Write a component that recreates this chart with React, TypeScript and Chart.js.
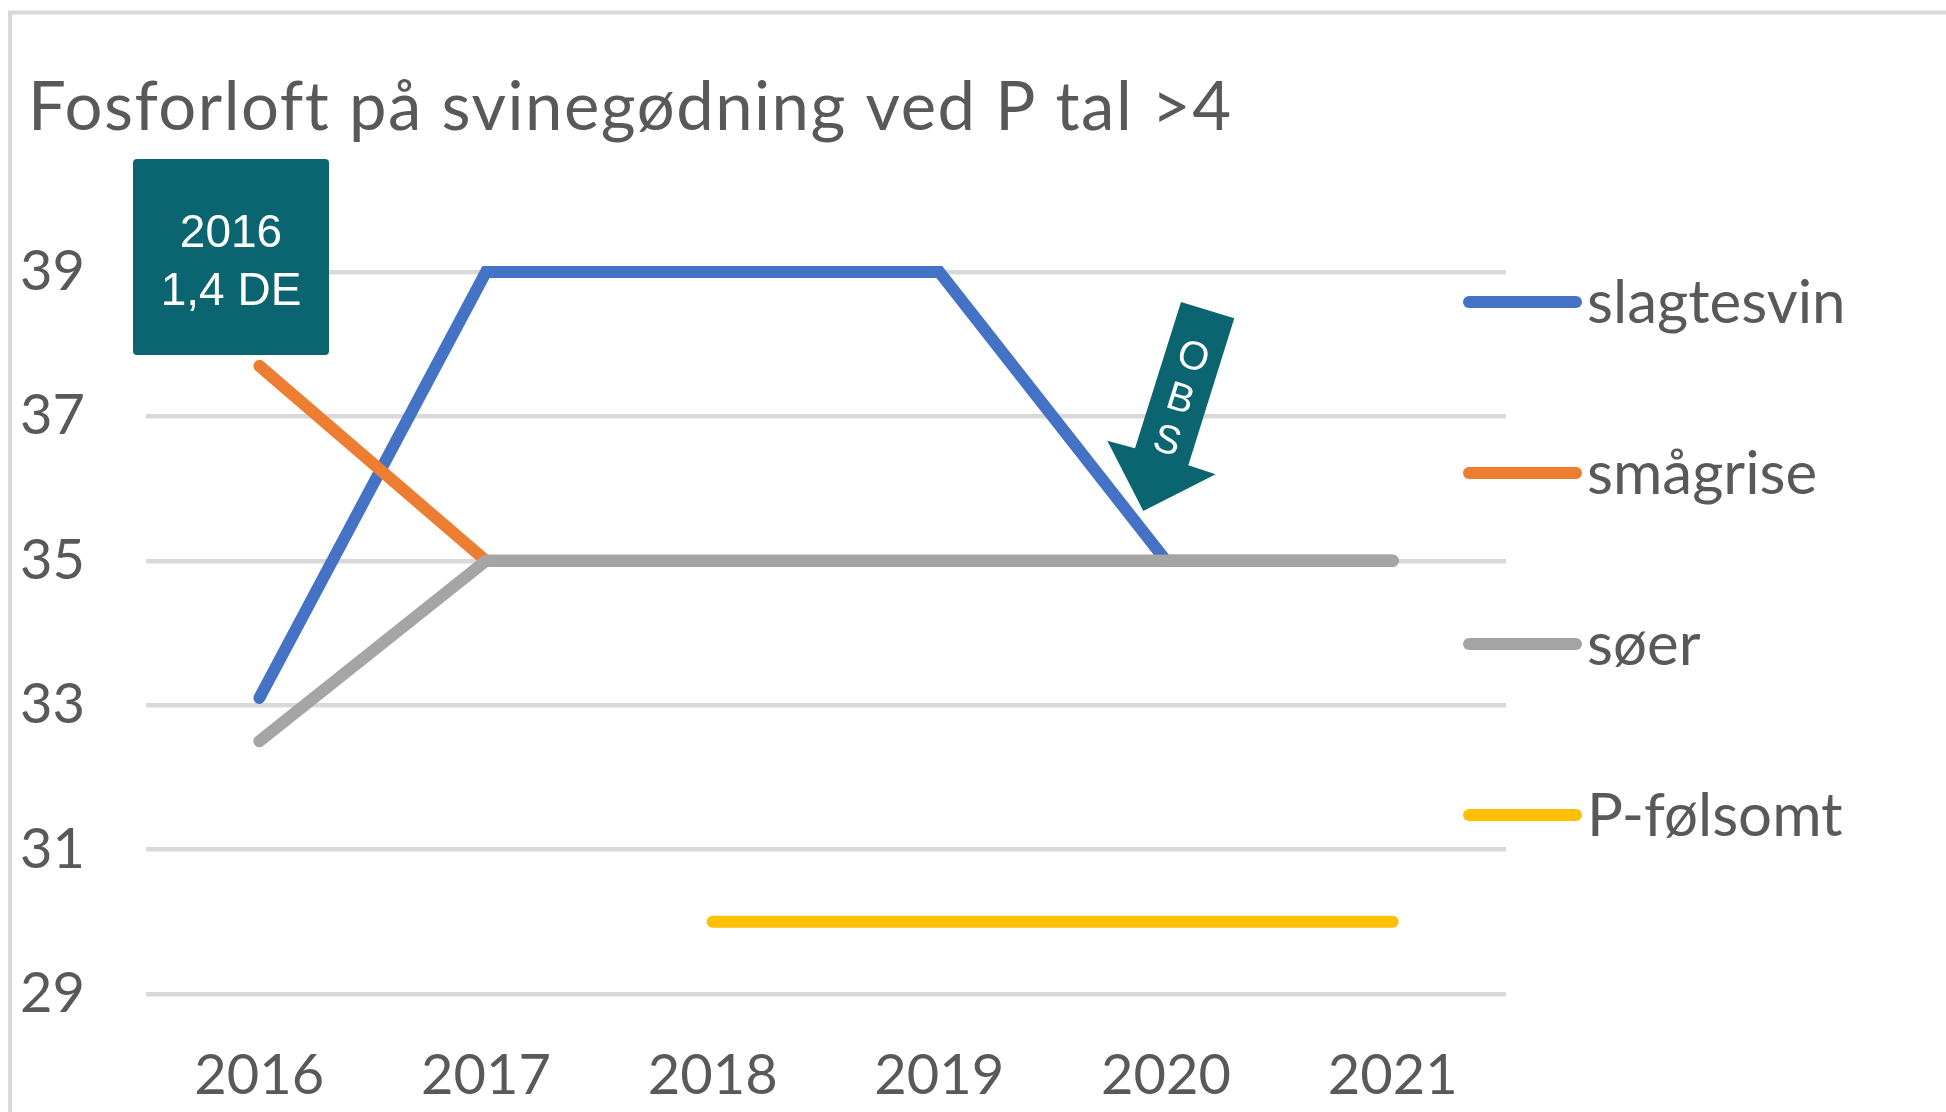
import React, { useEffect, useRef } from "react";
import { Chart, registerables } from "chart.js";

Chart.register(...registerables);

const years = ["2016", "2017", "2018", "2019", "2020", "2021"];
const slagtesvin = [33.1, 39, 39, 39, 35, 35];
const smaagrise = [37.7, 35, 35, 35, 35, 35];
const soeer = [32.5, 35, 35, 35, 35, 35];
const pFoelsomt = [null, null, 30, 30, 30, 30];
const seriesNames = ["slagtesvin", "smågrise", "søer", "P-følsomt"];
const seriesColors = ["#4472C4", "#ED7D31", "#A5A5A5", "#FFC000"];
const titleText = "Fosforloft på svinegødning ved P tal >4";
const boxLines = ["2016", "1,4 DE"];
const arrowText = ["O", "B", "S"];

const TEXT = "#595959";
const TEAL = "#0A6570";

const decor = {
  id: "decor",
  afterDraw(chart: any) {
    const ctx = chart.ctx as CanvasRenderingContext2D;
    ctx.save();
    // outer border (only top/left visible)
    ctx.strokeStyle = "#D9D9D9";
    ctx.lineWidth = 4;
    ctx.strokeRect(10, 12.5, 3000, 3000);

    // title
    ctx.fillStyle = TEXT;
    ctx.font = "67px Lato";
    (ctx as any).letterSpacing = "1.5px";
    ctx.textAlign = "left";
    ctx.textBaseline = "alphabetic";
    ctx.fillText(titleText, 28, 130);
    (ctx as any).letterSpacing = "0px";

    // annotation box
    ctx.fillStyle = TEAL;
    ctx.beginPath();
    (ctx as any).roundRect(133, 159, 196, 196, 4);
    ctx.fill();
    ctx.fillStyle = "#FFFFFF";
    ctx.font = "46px 'Liberation Sans'";
    ctx.textAlign = "center";
    ctx.fillText(boxLines[0], 231, 247);
    ctx.fillText(boxLines[1], 231, 305);

    // arrow
    const pts = [
      [1181, 302],
      [1234.3, 318.3],
      [1188.3, 465.3],
      [1215.7, 474.3],
      [1143.3, 511],
      [1107.3, 440.7],
      [1135, 448.3],
    ];
    ctx.fillStyle = TEAL;
    ctx.beginPath();
    pts.forEach((p, i) => (i === 0 ? ctx.moveTo(p[0], p[1]) : ctx.lineTo(p[0], p[1])));
    ctx.closePath();
    ctx.fill();
    ctx.save();
    ctx.translate(1193, 358);
    ctx.rotate((17.3 * Math.PI) / 180);
    ctx.fillStyle = "#FFFFFF";
    ctx.font = "40px 'Liberation Sans'";
    ctx.textAlign = "center";
    ctx.textBaseline = "middle";
    arrowText.forEach((ch, i) => ctx.fillText(ch, 0, i * 44));
    ctx.restore();

    // legend
    const ys = [302, 473, 644, 815];
    chart.data.datasets.forEach((ds: any, i: number) => {
      const y = ys[i];
      ctx.strokeStyle = ds.borderColor;
      ctx.lineWidth = 12;
      ctx.lineCap = "round";
      ctx.beginPath();
      ctx.moveTo(1469, y);
      ctx.lineTo(1576, y);
      ctx.stroke();
      ctx.fillStyle = TEXT;
      ctx.font = "60px Lato";
      ctx.textAlign = "left";
      ctx.textBaseline = "alphabetic";
      ctx.fillText(ds.label, 1587, y + 21);
    });
    ctx.restore();
  },
};

export default function App() {
  const ref = useRef<HTMLCanvasElement>(null);
  useEffect(() => {
    const values = [slagtesvin, smaagrise, soeer, pFoelsomt];
    const chart = new Chart(ref.current as HTMLCanvasElement, {
      type: "line",
      data: {
        labels: years,
        datasets: values.map((v, i) => ({
          label: seriesNames[i],
          data: v,
          borderColor: seriesColors[i],
          backgroundColor: seriesColors[i],
          borderWidth: 12,
          pointRadius: 0,
          borderCapStyle: "round",
          borderJoinStyle: "miter",
          spanGaps: false,
          clip: false,
          order: 3 - i,
        })) as any,
      },
      options: {
        responsive: false,
        animation: false,
        layout: { padding: { left: 0, right: 440, top: 272, bottom: 0 } },
        plugins: {
          legend: { display: false },
          tooltip: { enabled: false },
          title: { display: false },
        },
        scales: {
          x: {
            type: "category",
            offset: true,
            grid: { display: false, drawTicks: false },
            border: { display: false },
            ticks: { padding: 48, color: TEXT, font: { family: "Lato", size: 56 } },
            afterFit: (s: any) => {
              s.height = 118;
            },
          },
          y: {
            min: 29,
            max: 39,
            ticks: { stepSize: 2, padding: 61, color: TEXT, font: { family: "Lato", size: 56 } },
            grid: { color: "#D9D9D9", lineWidth: 4.5, drawTicks: false },
            border: { display: false },
            afterFit: (s: any) => {
              s.width = 146;
            },
          },
        },
      },
      plugins: [decor],
    });
    return () => chart.destroy();
  }, []);
  return (
    <div style={{ position: "fixed", left: 0, top: 0, width: 1946, height: 1112, background: "#fff" }}>
      <canvas ref={ref} width={1946} height={1112} style={{ width: 1946, height: 1112, display: "block" }} />
    </div>
  );
}
